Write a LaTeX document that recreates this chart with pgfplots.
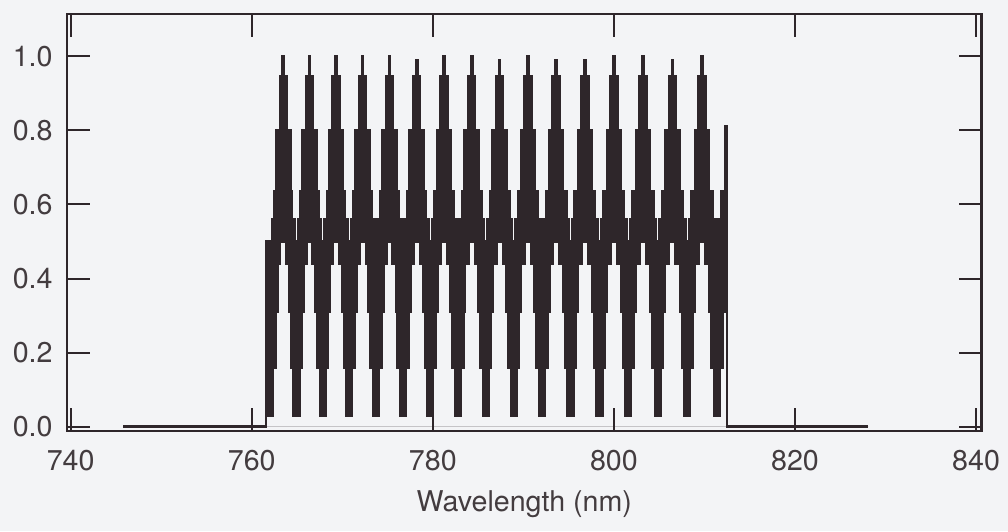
\documentclass[border=0pt]{standalone}
\usepackage{fontspec}
\setmainfont{TeX Gyre Heros}
\usepackage{pgfplots}
\usepackage{pgfplotstable}
\pgfplotsset{compat=1.18}
\pgfdeclarelayer{background}
\pgfsetlayers{background,main}
\definecolor{ink}{RGB}{46,38,42}
\definecolor{paper}{RGB}{243,244,246}

% Upper edge of the transmission band (stepwise, value holds until next x)
\pgfplotstableread{
x y
745.82 0
761.58 0.50
762.24 0.56
762.53 0.635
762.72 0.80
763.11 0.945
763.43 1.00
763.55 0.945
763.87 0.80
764.26 0.635
764.47 0.56
764.76 0.50
765.12 0.56
765.41 0.635
765.61 0.80
766.00 0.945
766.32 1.00
766.44 0.945
766.76 0.80
767.15 0.635
767.37 0.56
767.66 0.50
768.02 0.56
768.31 0.635
768.53 0.80
768.92 0.945
769.24 1.00
769.36 0.945
769.68 0.80
770.07 0.635
770.30 0.56
770.59 0.50
770.95 0.56
771.24 0.635
771.47 0.80
771.86 0.945
772.18 1.00
772.30 0.945
772.62 0.80
773.01 0.635
773.26 0.56
773.55 0.50
773.91 0.56
774.20 0.635
774.45 0.80
774.84 0.945
775.16 1.00
775.28 0.945
775.60 0.80
775.99 0.635
776.25 0.56
776.54 0.50
776.90 0.56
777.19 0.635
777.45 0.80
777.84 0.945
778.16 0.99
778.28 0.945
778.60 0.80
778.99 0.635
779.26 0.56
779.55 0.50
779.91 0.56
780.20 0.635
780.47 0.80
780.86 0.945
781.18 1.00
781.30 0.945
781.62 0.80
782.01 0.635
782.30 0.56
782.59 0.50
782.95 0.56
783.24 0.635
783.53 0.80
783.92 0.945
784.24 1.00
784.36 0.945
784.68 0.80
785.07 0.635
785.37 0.56
785.66 0.50
786.02 0.56
786.31 0.635
786.61 0.80
787.00 0.945
787.32 0.99
787.44 0.945
787.76 0.80
788.15 0.635
788.47 0.56
788.76 0.50
789.12 0.56
789.41 0.635
789.72 0.80
790.11 0.945
790.43 1.00
790.55 0.945
790.87 0.80
791.26 0.635
791.59 0.56
791.88 0.50
792.24 0.56
792.53 0.635
792.86 0.80
793.25 0.945
793.57 0.99
793.69 0.945
794.01 0.80
794.40 0.635
794.74 0.56
795.03 0.50
795.39 0.56
795.68 0.635
796.03 0.80
796.42 0.945
796.74 0.99
796.86 0.945
797.18 0.80
797.57 0.635
797.93 0.56
798.22 0.50
798.58 0.56
798.87 0.635
799.22 0.80
799.61 0.945
799.93 1.00
800.05 0.945
800.37 0.80
800.76 0.635
801.13 0.56
801.42 0.50
801.78 0.56
802.07 0.635
802.44 0.80
802.83 0.945
803.15 1.00
803.27 0.945
803.59 0.80
803.98 0.635
804.36 0.56
804.65 0.50
805.01 0.56
805.30 0.635
805.69 0.80
806.08 0.945
806.40 0.99
806.52 0.945
806.84 0.80
807.23 0.635
807.63 0.56
807.92 0.50
808.28 0.56
808.57 0.635
808.97 0.80
809.36 0.945
809.68 1.00
809.80 0.945
810.12 0.80
810.51 0.635
810.92 0.56
811.21 0.50
811.57 0.56
811.86 0.635
812.30 0.81
812.48 0
828.10 0
}\upperedge

% Lower edge of the transmission band
\pgfplotstableread{
x y
745.82 0
761.58 0.03
762.37 0.16
762.66 0.31
762.86 0.44
763.13 0.50
763.85 0.44
764.14 0.31
764.34 0.16
764.63 0.03
765.25 0.16
765.54 0.31
765.74 0.44
766.02 0.50
766.74 0.44
767.04 0.31
767.24 0.16
767.53 0.03
768.15 0.16
768.44 0.31
768.64 0.44
768.94 0.50
769.66 0.44
769.97 0.31
770.17 0.16
770.46 0.03
771.08 0.16
771.37 0.31
771.57 0.44
771.88 0.50
772.60 0.44
772.93 0.31
773.13 0.16
773.42 0.03
774.04 0.16
774.33 0.31
774.53 0.44
774.86 0.50
775.58 0.44
775.92 0.31
776.12 0.16
776.41 0.03
777.03 0.16
777.32 0.31
777.52 0.44
777.86 0.50
778.58 0.44
778.93 0.31
779.13 0.16
779.42 0.03
780.04 0.16
780.33 0.31
780.53 0.44
780.88 0.50
781.60 0.44
781.97 0.31
782.17 0.16
782.46 0.03
783.08 0.16
783.37 0.31
783.57 0.44
783.94 0.50
784.66 0.44
785.04 0.31
785.24 0.16
785.53 0.03
786.15 0.16
786.44 0.31
786.64 0.44
787.02 0.50
787.74 0.44
788.14 0.31
788.34 0.16
788.63 0.03
789.25 0.16
789.54 0.31
789.74 0.44
790.13 0.50
790.85 0.44
791.26 0.31
791.46 0.16
791.75 0.03
792.37 0.16
792.66 0.31
792.86 0.44
793.27 0.50
793.99 0.44
794.41 0.31
794.61 0.16
794.90 0.03
795.52 0.16
795.81 0.31
796.01 0.44
796.44 0.50
797.16 0.44
797.60 0.31
797.80 0.16
798.09 0.03
798.71 0.16
799.00 0.31
799.20 0.44
799.63 0.50
800.35 0.44
800.80 0.31
801.00 0.16
801.29 0.03
801.91 0.16
802.20 0.31
802.40 0.44
802.85 0.50
803.57 0.44
804.03 0.31
804.23 0.16
804.52 0.03
805.14 0.16
805.43 0.31
805.63 0.44
806.10 0.50
806.82 0.44
807.30 0.31
807.50 0.16
807.79 0.03
808.41 0.16
808.70 0.31
808.90 0.44
809.38 0.50
810.10 0.44
810.59 0.31
810.79 0.16
811.08 0.03
811.70 0.16
811.99 0.31
812.48 0
828.10 0
}\loweredge

\begin{document}
\begin{tikzpicture}
\begin{axis}[
  scale only axis,
  width=457.35pt, height=208.5pt,
  xmin=739.6, xmax=840.62,
  ymin=-0.0116, ymax=1.1139,
  axis on top,
  axis line style={ink, line width=1.3pt},
  xtick={740,760,780,800,820,840},
  ytick={0,0.2,0.4,0.6,0.8,1.0},
  major tick length=11.5pt,
  tick style={ink, line width=1pt},
  tick align=inside,
  minor tick num=0,
  /pgf/number format/assume math mode=true,
  tick label style={font=\fontsize{14.3}{16}\selectfont, text=ink!90, inner sep=0pt},
  yticklabel style={/pgf/number format/.cd, fixed, fixed zerofill, precision=1},
  xticklabel style={/pgf/number format/.cd, fixed, precision=0, 1000 sep={}},
  xticklabel shift=9.5pt,
  yticklabel shift=7pt,
  xlabel={Wavelength (nm)},
  xlabel style={font=\fontsize{14.3}{16}\selectfont, text=ink!90, inner sep=0pt,
    at={(axis description cs:0.5,0)}, anchor=north, yshift=-29.5pt},
  clip=true,
]
  \addplot[const plot, fill=ink, draw=none] table[x=x, y=y] {\upperedge} \closedcycle;
  \addplot[const plot, fill=paper, draw=none] table[x=x, y=y] {\loweredge} \closedcycle;
  \addplot[const plot, ink, line width=1.3pt] table[x=x, y=y] {\upperedge};
  \addplot[const plot, ink, line width=1.3pt] table[x=x, y=y] {\loweredge};
\end{axis}
\begin{pgfonlayer}{background}
  \fill[paper] ([shift={(-33.5pt,-50pt)}]current axis.south west)
    rectangle ([shift={(13.15pt,7pt)}]current axis.north east);
\end{pgfonlayer}
\pgfresetboundingbox
\useasboundingbox ([shift={(-33.5pt,-50pt)}]current axis.south west)
    rectangle ([shift={(13.15pt,7pt)}]current axis.north east);
\end{tikzpicture}
\end{document}
